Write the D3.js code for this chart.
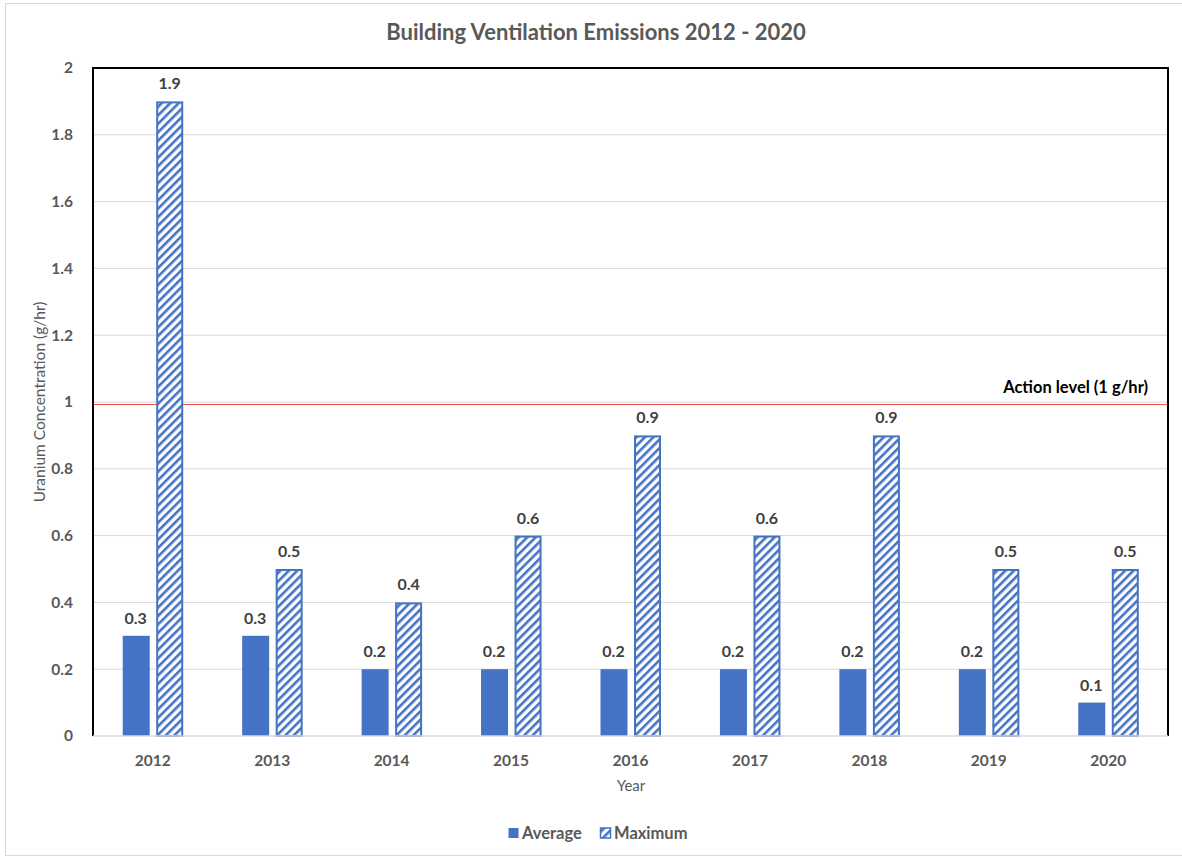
<!DOCTYPE html>
<html>
<head>
<meta charset="utf-8">
<script src="https://cdn.jsdelivr.net/npm/d3@7.9.0/dist/d3.min.js"></script>
<style>
  body { margin: 0; background: #fff; }
  svg { display: block; font-family: Lato, "Open Sans", sans-serif; }
</style>
</head>
<body>
<svg width="1182" height="859"></svg>
<script>
// chart values
const years = ["2012", "2013", "2014", "2015", "2016", "2017", "2018", "2019", "2020"];
const average = [0.3, 0.3, 0.2, 0.2, 0.2, 0.2, 0.2, 0.2, 0.1];
const maximum = [1.9, 0.5, 0.4, 0.6, 0.9, 0.6, 0.9, 0.5, 0.5];
const yTicks = [0, 0.2, 0.4, 0.6, 0.8, 1, 1.2, 1.4, 1.6, 1.8, 2];
const actionLevel = 1;

const blue = "#4472C4";
const textGray = "#595959";

const svg = d3.select("svg");
const margin = {left: 93, right: 14, top: 68, bottom: 123};
const W = 1182, H = 859;

// pattern for the hatched bars
const defs = svg.append("defs");
const pat = defs.append("pattern")
    .attr("id", "hatch")
    .attr("patternUnits", "userSpaceOnUse")
    .attr("width", 6).attr("height", 6)
    .attr("patternTransform", "rotate(45)");
pat.append("rect").attr("width", 6).attr("height", 6).attr("fill", "#fff");
pat.append("rect").attr("x", 0).attr("width", 2.6).attr("height", 6).attr("fill", blue);

// outer chart border
svg.append("rect")
    .attr("x", 5.5).attr("y", 3.5)
    .attr("width", 1200).attr("height", 852)
    .attr("fill", "none").attr("stroke", "#d9d9d9");

let x = d3.scaleBand()
    .domain(years)
    .range([margin.left, W - margin.right]);
let y = d3.scaleLinear()
    .domain([0, 2])
    .range([H - margin.bottom, margin.top]);

// gridlines
svg.append("g")
    .selectAll("line")
    .data(yTicks.filter(d => d > 0 && d < 2))
    .join("line")
    .attr("x1", margin.left).attr("x2", W - margin.right)
    .attr("y1", d => y(d)).attr("y2", d => y(d))
    .attr("stroke", "#d9d9d9").attr("stroke-width", 1);

// action level line
svg.append("line")
    .attr("x1", margin.left).attr("x2", W - margin.right)
    .attr("y1", y(actionLevel) + 2.5).attr("y2", y(actionLevel) + 2.5)
    .attr("stroke", "#f0504f").attr("stroke-width", 1);

svg.append("text")
    .attr("x", W - margin.right - 20)
    .attr("y", y(actionLevel) - 9)
    .attr("text-anchor", "end")
    .attr("font-size", 16.5).attr("font-weight", "bold")
    .attr("fill", "#000")
    .text("Action level (1 g/hr)");

// bars
const barW = 27, gap = 7;
const groups = svg.append("g")
    .selectAll("g")
    .data(years)
    .join("g")
    .attr("transform", d => `translate(${x(d) + x.bandwidth() / 2},0)`);

groups.append("rect")
    .attr("x", -barW - gap / 2 + 0.5)
    .attr("y", (d, i) => y(average[i]))
    .attr("width", barW)
    .attr("height", (d, i) => y(0) - y(average[i]))
    .attr("fill", blue);

groups.append("rect")
    .attr("x", gap / 2 + 1)
    .attr("y", (d, i) => y(maximum[i]) + 1)
    .attr("width", barW - 2)
    .attr("height", (d, i) => y(0) - y(maximum[i]) - 1)
    .attr("fill", "url(#hatch)")
    .attr("stroke", blue).attr("stroke-width", 2);

// data labels
groups.append("text")
    .attr("x", -barW / 2 - gap / 2)
    .attr("y", (d, i) => y(average[i]) - 12)
    .attr("text-anchor", "middle")
    .attr("font-size", 16).attr("font-weight", "bold")
    .attr("fill", "#404040")
    .text((d, i) => average[i]);

groups.append("text")
    .attr("x", barW / 2 + gap / 2)
    .attr("y", (d, i) => y(maximum[i]) - 12)
    .attr("text-anchor", "middle")
    .attr("font-size", 16).attr("font-weight", "bold")
    .attr("fill", "#404040")
    .text((d, i) => maximum[i]);

// plot border: left, top, right in black, bottom gray
svg.append("path")
    .attr("d", `M${margin.left},${y(0)}V${margin.top}H${W - margin.right}V${y(0)}`)
    .attr("fill", "none").attr("stroke", "#000").attr("stroke-width", 2);
svg.append("line")
    .attr("x1", margin.left).attr("x2", W - margin.right)
    .attr("y1", y(0)).attr("y2", y(0))
    .attr("stroke", "#d9d9d9").attr("stroke-width", 1.5);

// y axis
const yAxis = svg.append("g")
    .attr("transform", `translate(${margin.left - 17},0)`)
    .call(d3.axisLeft(y).tickValues(yTicks).tickSize(0).tickFormat(d3.format("~g")));
yAxis.select(".domain").remove();
yAxis.selectAll("text")
    .attr("font-family", "Lato, sans-serif")
    .attr("font-size", 15.5).attr("font-weight", "bold")
    .attr("fill", textGray);

// x axis
const xAxis = svg.append("g")
    .attr("transform", `translate(0,${y(0) + 16})`)
    .call(d3.axisBottom(x).tickSize(0));
xAxis.select(".domain").remove();
xAxis.selectAll("text")
    .attr("font-family", "Lato, sans-serif")
    .attr("font-size", 15.5).attr("font-weight", "bold")
    .attr("fill", textGray);

// title and axis labels
svg.append("text")
    .attr("x", 596).attr("y", 40)
    .attr("text-anchor", "middle")
    .attr("font-size", 22).attr("font-weight", "bold")
    .attr("fill", textGray)
    .text("Building Ventilation Emissions 2012 - 2020");

svg.append("text")
    .attr("x", 631).attr("y", 791)
    .attr("text-anchor", "middle")
    .attr("font-size", 15)
    .attr("fill", textGray)
    .text("Year");

svg.append("text")
    .attr("transform", `translate(45,${y(1)}) rotate(-90)`)
    .attr("text-anchor", "middle")
    .attr("font-size", 15.5)
    .attr("fill", textGray)
    .text("Uranium Concentration (g/hr)");

// legend
const legendItems = [
    {label: "Average", fill: blue, stroke: "none"},
    {label: "Maximum", fill: "url(#hatch)", stroke: blue}
];
const legend = svg.append("g").attr("transform", "translate(508,839)");
const li = legend.selectAll("g")
    .data(legendItems)
    .join("g")
    .attr("transform", (d, i) => `translate(${i * 92},0)`);
li.append("rect")
    .attr("x", 0.5).attr("y", -11)
    .attr("width", 10).attr("height", 10)
    .attr("fill", d => d.fill)
    .attr("stroke", d => d.stroke).attr("stroke-width", 1.5);
li.append("text")
    .attr("x", 14).attr("y", 0)
    .attr("font-size", 16.5).attr("font-weight", "bold")
    .attr("fill", textGray)
    .text(d => d.label);
</script>
</body>
</html>
